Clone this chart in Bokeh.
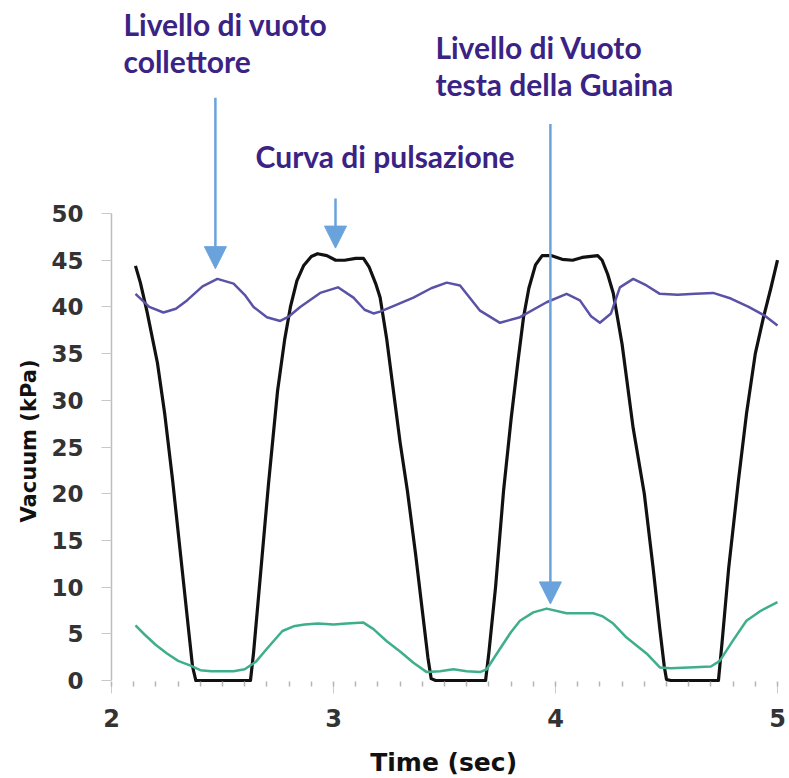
from bokeh.plotting import figure
from bokeh.models import Range1d, FixedTicker, Arrow, NormalHead, Label, Title
from bokeh.embed import file_html
from bokeh.resources import INLINE

# Pulsation curve (black)
pulse_t = [2.108, 2.13, 2.16, 2.207, 2.24, 2.275, 2.32, 2.35, 2.365, 2.38, 2.626, 2.64, 2.668,
           2.707, 2.748, 2.78, 2.806, 2.835, 2.865, 2.90, 2.928, 2.97, 3.01, 3.05, 3.10, 3.135,
           3.16, 3.19, 3.21, 3.24, 3.27, 3.30, 3.333, 3.37, 3.40, 3.425, 3.44, 3.46, 3.685,
           3.70, 3.73, 3.766, 3.80, 3.83, 3.856, 3.88, 3.91, 3.94, 3.98, 4.03, 4.077, 4.12,
           4.19, 4.21, 4.235, 4.26, 4.30, 4.35, 4.40, 4.44, 4.47, 4.49, 4.50, 4.52, 4.734,
           4.75, 4.78, 4.824, 4.86, 4.90, 4.937, 4.97, 5.0]
pulse_v = [44.4, 42.6, 39.5, 34.0, 28.5, 21.5, 11.5, 4.8, 1.5, 0.0, 0.0, 3.0, 10.5,
           21.0, 31.0, 36.5, 40.0, 42.8, 44.4, 45.4, 45.7, 45.5, 45.0, 45.0, 45.2, 45.2,
           44.3, 42.5, 41.0, 36.5, 31.0, 25.5, 20.3, 13.5, 7.5, 2.5, 0.2, 0.0, 0.0,
           3.0, 10.0, 20.3, 28.0, 34.0, 38.9, 42.0, 44.5, 45.5, 45.5, 45.1, 45.0, 45.3,
           45.5, 45.0, 43.5, 41.5, 36.0, 27.0, 20.0, 12.0, 5.5, 1.5, 0.1, 0.0, 0.0,
           4.0, 12.0, 21.4, 28.5, 35.0, 38.9, 42.0, 45.0]

# Manifold vacuum (purple)
manifold_t = [2.108, 2.17, 2.234, 2.29, 2.34, 2.41, 2.477, 2.55, 2.60, 2.64, 2.70, 2.76,
              2.80, 2.85, 2.94, 3.02, 3.09, 3.14, 3.18, 3.21, 3.28, 3.36, 3.44, 3.51,
              3.57, 3.62, 3.66, 3.75, 3.84, 3.96, 4.05, 4.11, 4.16, 4.20, 4.25, 4.29,
              4.35, 4.41, 4.47, 4.55, 4.63, 4.71, 4.79, 4.87, 4.94, 5.0]
manifold_v = [41.4, 40.0, 39.4, 39.8, 40.7, 42.2, 43.0, 42.5, 41.3, 40.0, 38.9, 38.5,
              39.0, 40.0, 41.5, 42.1, 41.0, 39.7, 39.3, 39.5, 40.2, 41.0, 42.0, 42.6,
              42.3, 40.8, 39.6, 38.3, 38.9, 40.5, 41.4, 40.7, 39.0, 38.3, 39.3, 42.1,
              43.0, 42.3, 41.4, 41.3, 41.4, 41.5, 40.9, 40.0, 39.1, 38.0]

# Teat-end vacuum (green)
teat_t = [2.108, 2.15, 2.2, 2.25, 2.3, 2.356, 2.40, 2.45, 2.50, 2.55, 2.60, 2.65, 2.70,
          2.77, 2.82, 2.87, 2.93, 3.0, 3.06, 3.135, 3.18, 3.24, 3.30, 3.36, 3.42, 3.48,
          3.54, 3.60, 3.66, 3.69, 3.75, 3.80, 3.84, 3.90, 3.96, 4.05, 4.17, 4.21, 4.26,
          4.32, 4.41, 4.47, 4.52, 4.60, 4.70, 4.74, 4.80, 4.86, 4.92, 5.0]
teat_v = [5.9, 4.9, 3.8, 2.9, 2.1, 1.6, 1.1, 1.0, 1.0, 1.0, 1.2, 2.0, 3.4,
          5.3, 5.8, 6.0, 6.1, 6.0, 6.1, 6.2, 5.5, 4.2, 3.1, 1.9, 0.9, 1.0,
          1.2, 1.0, 0.9, 1.2, 3.4, 5.2, 6.4, 7.3, 7.7, 7.2, 7.2, 6.9, 6.1,
          4.6, 2.9, 1.4, 1.3, 1.4, 1.5, 2.1, 4.3, 6.4, 7.4, 8.4]

y_ticks = [0, 5, 10, 15, 20, 25, 30, 35, 40, 45, 50]
x_ticks = [2, 3, 4, 5]
x_minor = [round(2 + 0.1 * i, 1) for i in range(31)]

# Annotations: arrow x, arrow top, arrow tip (data units)
arrow_x = [2.468, 3.009, 3.977]
arrow_top = [62.4, 51.6, 59.6]
arrow_tip = [44.1, 46.3, 8.2]

label_lines = ["Livello di vuoto", "collettore", "Livello di Vuoto", "testa della Guaina",
               "Curva di pulsazione"]
label_x = [2.054, 2.054, 3.459, 3.459, 2.649]
label_y = [70.30, 66.34, 67.84, 63.88, 56.17]

y_title = "Vacuum (kPa)"
x_title = "Time  (sec)"

BLACK = "#111111"
PURPLE = "#5a52a6"
GREEN = "#3fae8c"
ARROW = "#6aa3dc"
TEXT = "#3a2384"

p = figure(frame_width=673, frame_height=673,
           min_border_left=111, min_border_right=4, min_border_top=10, min_border_bottom=92,
           x_range=Range1d(2.0, 2.0 + 673 / 222), y_range=Range1d(-0.32, 71.74),
           output_backend="svg", toolbar_location=None, background_fill_color="white",
           border_fill_color="white")
p.outline_line_color = None
p.xgrid.grid_line_color = None
p.ygrid.grid_line_color = None

p.line(pulse_t, pulse_v, line_color=BLACK, line_width=3.2, line_join="round")
p.line(manifold_t, manifold_v, line_color=PURPLE, line_width=2.5, line_join="round")
p.line(teat_t, teat_v, line_color=GREEN, line_width=2.5, line_join="round")

for ax, at, ap in zip(arrow_x, arrow_top, arrow_tip):
    p.add_layout(Arrow(end=NormalHead(size=22, fill_color=ARROW, line_color=ARROW),
                       x_start=ax, y_start=at, x_end=ax, y_end=ap,
                       line_color=ARROW, line_width=2.5))

for txt, lx, ly in zip(label_lines, label_x, label_y):
    p.add_layout(Label(x=lx, y=ly, text=txt, text_font="Lato", text_font_style="bold",
                       text_font_size="30px", text_color=TEXT, text_baseline="alphabetic"))

# Y axis title, placed alongside the 0-50 span
p.add_layout(Title(text=y_title, align="left", offset=161, standoff=16,
                   text_font="DejaVu Sans", text_font_style="bold",
                   text_font_size="21px", text_color="#111111"), "left")

# Y axis
p.yaxis.ticker = FixedTicker(ticks=y_ticks)
p.yaxis.bounds = (0, 50)
p.yaxis.axis_line_color = "#bdbdbd"
p.yaxis.axis_line_width = 1.5
p.yaxis.major_tick_in = 0
p.yaxis.major_tick_out = 10
p.yaxis.major_tick_line_color = "#c8c8c8"
p.yaxis.minor_tick_line_color = None
p.yaxis.major_label_standoff = 18
p.yaxis.major_label_text_font = "DejaVu Sans"
p.yaxis.major_label_text_font_style = "bold"
p.yaxis.major_label_text_font_size = "23px"
p.yaxis.major_label_text_color = "#333333"

# X axis
p.xaxis.ticker = FixedTicker(ticks=x_ticks, minor_ticks=x_minor)
p.xaxis.axis_line_color = None
p.xaxis.major_tick_in = 0
p.xaxis.major_tick_out = 10
p.xaxis.major_tick_line_color = "#cccccc"
p.xaxis.minor_tick_in = 2
p.xaxis.minor_tick_out = 3
p.xaxis.minor_tick_line_color = "#b5b5b5"
p.xaxis.minor_tick_line_width = 1.5
p.xaxis.major_label_standoff = 15
p.xaxis.major_label_text_font = "DejaVu Sans"
p.xaxis.major_label_text_font_style = "bold"
p.xaxis.major_label_text_font_size = "24px"
p.xaxis.major_label_text_color = "#333333"
p.xaxis.axis_label = x_title
p.xaxis.axis_label_text_font = "DejaVu Sans"
p.xaxis.axis_label_text_font_style = "bold"
p.xaxis.axis_label_text_font_size = "25px"
p.xaxis.axis_label_text_color = "#111111"
p.xaxis.axis_label_standoff = 18

open("out.html", "w").write(file_html(p, INLINE))
